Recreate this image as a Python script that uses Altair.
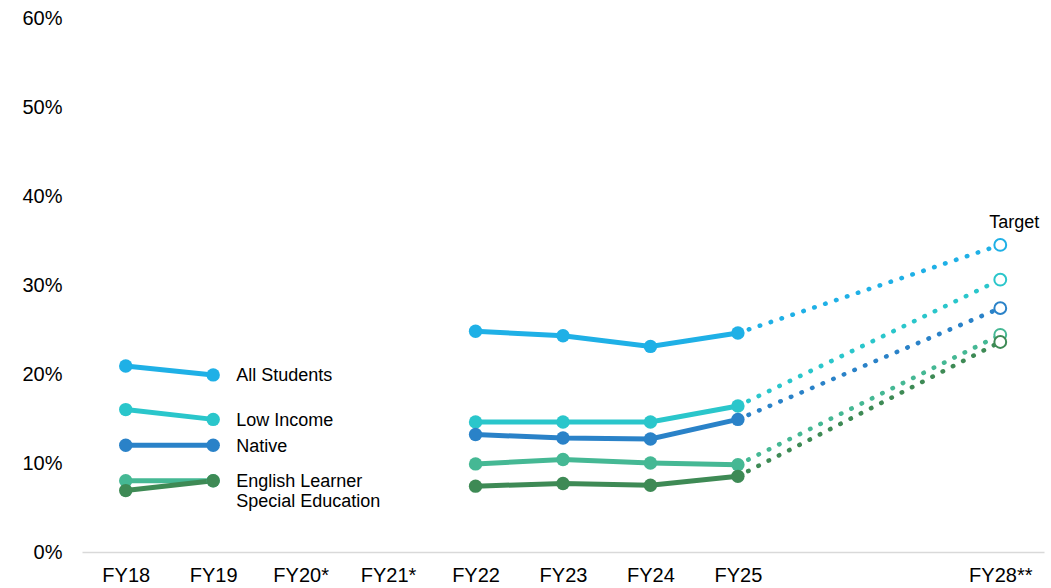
import altair as alt
import pandas as pd

years = ["FY18", "FY19", "FY20*", "FY21*", "FY22", "FY23", "FY24", "FY25", "FY26", "FY27", "FY28**"]
series = ["All Students", "Low Income", "Native", "English Learner", "Special Education"]
colors = ["#1fb0e6", "#2ac6cb", "#2a82c8", "#45b894", "#3e8a55"]

early_years = ["FY18", "FY19"]
late_years = ["FY22", "FY23", "FY24", "FY25"]

early = {
    "All Students": [20.9, 19.9],
    "Low Income": [16.0, 14.9],
    "Native": [12.0, 12.0],
    "English Learner": [8.0, 8.0],
    "Special Education": [6.9, 8.0],
}
late = {
    "All Students": [24.8, 24.3, 23.1, 24.6],
    "Low Income": [14.6, 14.6, 14.6, 16.4],
    "Native": [13.2, 12.8, 12.7, 14.9],
    "English Learner": [9.9, 10.4, 10.0, 9.8],
    "Special Education": [7.4, 7.7, 7.5, 8.5],
}
targets = {
    "All Students": 34.5,
    "Low Income": 30.6,
    "Native": 27.4,
    "English Learner": 24.4,
    "Special Education": 23.6,
}
target_year = "FY28**"

rows = []
for s in series:
    for y, v in zip(early_years, early[s]):
        rows.append({"series": s, "year": y, "value": v, "seg": "early"})
    for y, v in zip(late_years, late[s]):
        rows.append({"series": s, "year": y, "value": v, "seg": "late"})
df = pd.DataFrame(rows)

proj_rows = []
for s in series:
    proj_rows.append({"series": s, "year": late_years[-1], "value": late[s][-1]})
    proj_rows.append({"series": s, "year": target_year, "value": targets[s]})
proj = pd.DataFrame(proj_rows)
tgt = pd.DataFrame([{"series": s, "year": target_year, "value": targets[s]} for s in series])

labels = pd.DataFrame([{"series": s, "year": early_years[-1], "value": early[s][-1]} for s in series])

x = alt.X("year:N", sort=years, scale=alt.Scale(domain=years, type="point", padding=0.5),
          axis=alt.Axis(title=None, labelAngle=0, ticks=False, labelFontSize=20, labelColor="#000000",
                        labelPadding=13, domainColor="#d9d9d9", domainWidth=1.5, grid=False,
                        labelExpr="(datum.label == 'FY26' || datum.label == 'FY27') ? '' : datum.label"))
y = alt.Y("value:Q", scale=alt.Scale(domain=[0, 60], nice=False, zero=True),
          axis=alt.Axis(title=None, values=[0, 10, 20, 30, 40, 50, 60], ticks=False, domain=False, grid=False,
                        labelFontSize=20, labelColor="#000000", labelPadding=20,
                        labelExpr="datum.value + '%'"))
color = alt.Color("series:N", scale=alt.Scale(domain=series, range=colors), legend=None)

base = alt.Chart(df)
lines = base.mark_line(strokeWidth=5).encode(x=x, y=y, color=color, detail="seg:N")
pts = base.mark_point(filled=True, size=180, opacity=1).encode(x=x, y=y, color=color)

dotted = alt.Chart(proj).mark_line(strokeWidth=4.5, strokeDash=[0.5, 11], strokeCap="round").encode(
    x=x, y=y, color=color, detail="series:N")
open_pts = alt.Chart(tgt).mark_point(filled=False, fill="white", size=140, strokeWidth=2, opacity=1).encode(
    x=x, y=y, color=color)

lab_main = alt.Chart(labels).transform_filter(alt.datum.series != "Special Education").mark_text(
    align="left", baseline="middle", dx=23, dy=1.5, fontSize=18, color="#000000").encode(
    x=x, y=y, text="series:N")
lab_sped = alt.Chart(labels).transform_filter(alt.datum.series == "Special Education").mark_text(
    align="left", baseline="middle", dx=23, dy=21.5, fontSize=18, color="#000000").encode(
    x=x, y=y, text="series:N")

target_text = alt.Chart(tgt).transform_filter(alt.datum.series == "All Students").mark_text(
    align="center", baseline="middle", dx=14, dy=-22, fontSize=18, color="#000000").encode(
    x=x, y=y, text=alt.value("Target"))

chart = alt.layer(dotted, lines, pts, open_pts, lab_main, lab_sped, target_text).properties(
    width=962, height=534,
    autosize=alt.AutoSizeParams(type="none"),
    padding={"left": 82, "top": 18, "right": 7, "bottom": 36},
).configure(font="Liberation Sans", background="white").configure_view(strokeWidth=0, stroke=None)

chart.save("out.html", embed_options={"renderer": "svg", "actions": False})
